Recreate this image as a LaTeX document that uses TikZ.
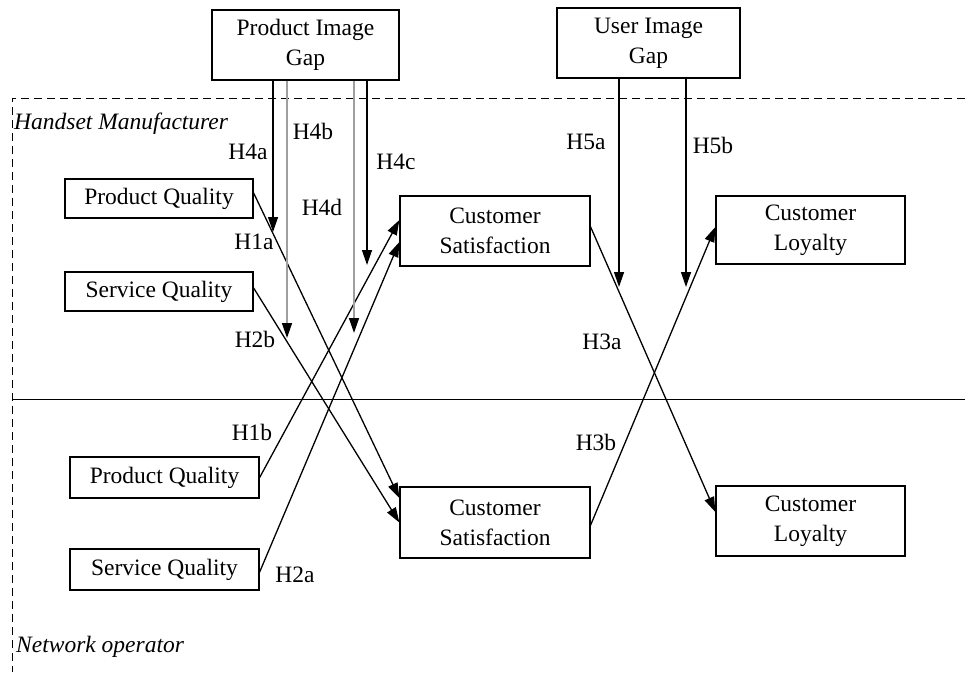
\documentclass[tikz,border=0pt]{standalone}
\usepackage{fontspec}
\setmainfont{Liberation Serif}
\usetikzlibrary{arrows.meta}
\tikzset{
  box/.style={draw,line width=1.3pt,align=center,inner sep=0pt,minimum width=189pt,minimum height=70pt},
  qbox/.style={box,minimum height=40pt},
  hyp/.style={line width=1.3pt,-{Triangle[length=15pt,width=10pt]}},
  hypgray/.style={line width=1.5pt,draw=gray!75,-{Triangle[length=15pt,width=10pt,color=black]}},
  lbl/.style={inner sep=0pt},
  region/.style={inner sep=0pt,anchor=west,font=\fontsize{23.5}{30}\selectfont\itshape}
}
\begin{document}
\begin{tikzpicture}[x=1pt,y=-1pt,font=\fontsize{23.5}{30}\selectfont]
    \useasboundingbox (0,0) rectangle (965,672);
    % the two parties
    \draw[line width=1pt,dash pattern=on 8pt off 5pt] (965,98) -- (12,98) -- (12,672);
    \draw[line width=1pt] (12,399) -- (965,399);
    \node[region] (hm) at (14,124) {Handset Manufacturer};
    \node[region] (no) at (16,647) {Network operator};

    % gaps
    \node[box,minimum width=187pt] (pig) at (305.5,45) {Product Image\\Gap};
    \node[box,minimum width=183pt] (uig) at (648.5,43) {User Image\\Gap};

    % handset manufacturer
    \node[qbox,minimum width=188pt,minimum height=39pt] (pqh) at (159,198.5) {Product Quality};
    \node[qbox,minimum width=188pt,minimum height=39pt] (sqh) at (159,291.5) {Service Quality};
    \node[box,minimum width=190pt] (csh) at (495,231) {Customer\\Satisfaction};
    \node[box,minimum height=68pt] (clh) at (810.5,230) {Customer\\Loyalty};

    % network operator
    \node[qbox,minimum height=41pt] (pqn) at (164.5,477.5) {Product Quality};
    \node[qbox,minimum height=41pt] (sqn) at (164.5,569.5) {Service Quality};
    \node[box,minimum width=190pt,minimum height=71pt] (csn) at (495,522.5) {Customer\\Satisfaction};
    \node[box] (cln) at (810.5,521) {Customer\\Loyalty};

    % quality -> satisfaction -> loyalty
    \draw[hyp] ([yshift=5.5pt]pqh.east) -- ([yshift=24.5pt]csn.west);
    \draw[hyp] ([yshift=3.5pt]sqh.east) -- (csn.west);
    \draw[hyp] (pqn.east) -- ([yshift=11pt]csh.west);
    \draw[hyp] ([yshift=-2.5pt]sqn.east) -- ([yshift=-11pt]csh.west);
    \draw[hyp] ([yshift=4pt]csh.east) -- ([yshift=9pt]cln.west);
    \draw[hyp] ([yshift=-2.5pt]csn.east) -- ([yshift=3pt]clh.west);

    % moderating gaps
    \coordinate (m4a) at (273,232);
    \coordinate (m4b) at (287,338);
    \coordinate (m4d) at (354,333);
    \coordinate (m4c) at (367,265);
    \coordinate (m5a) at (619,287);
    \coordinate (m5b) at (686,287);
    \foreach \m in {m4a,m4c}
      \draw[hyp] (pig.south -| \m) -- (\m);
    \foreach \m in {m4b,m4d}
      \draw[hypgray] (pig.south -| \m) -- (\m);
    \foreach \m in {m5a,m5b}
      \draw[hyp] (uig.south -| \m) -- (\m);

    % hypothesis labels
    \node[lbl] (h4a) at (248,152) {H4a};
    \node[lbl] (h4b) at (313,131) {H4b};
    \node[lbl] (h4c) at (396,162) {H4c};
    \node[lbl] (h4d) at (322,207) {H4d};
    \node[lbl] (h1a) at (254,242) {H1a};
    \node[lbl] (h2b) at (255,339) {H2b};
    \node[lbl] (h1b) at (252,432) {H1b};
    \node[lbl] (h2a) at (295,575) {H2a};
    \node[lbl] (h5a) at (586,142) {H5a};
    \node[lbl] (h5b) at (713,145) {H5b};
    \node[lbl] (h3a) at (602,342) {H3a};
    \node[lbl] (h3b) at (596,442) {H3b};
\end{tikzpicture}
\end{document}
